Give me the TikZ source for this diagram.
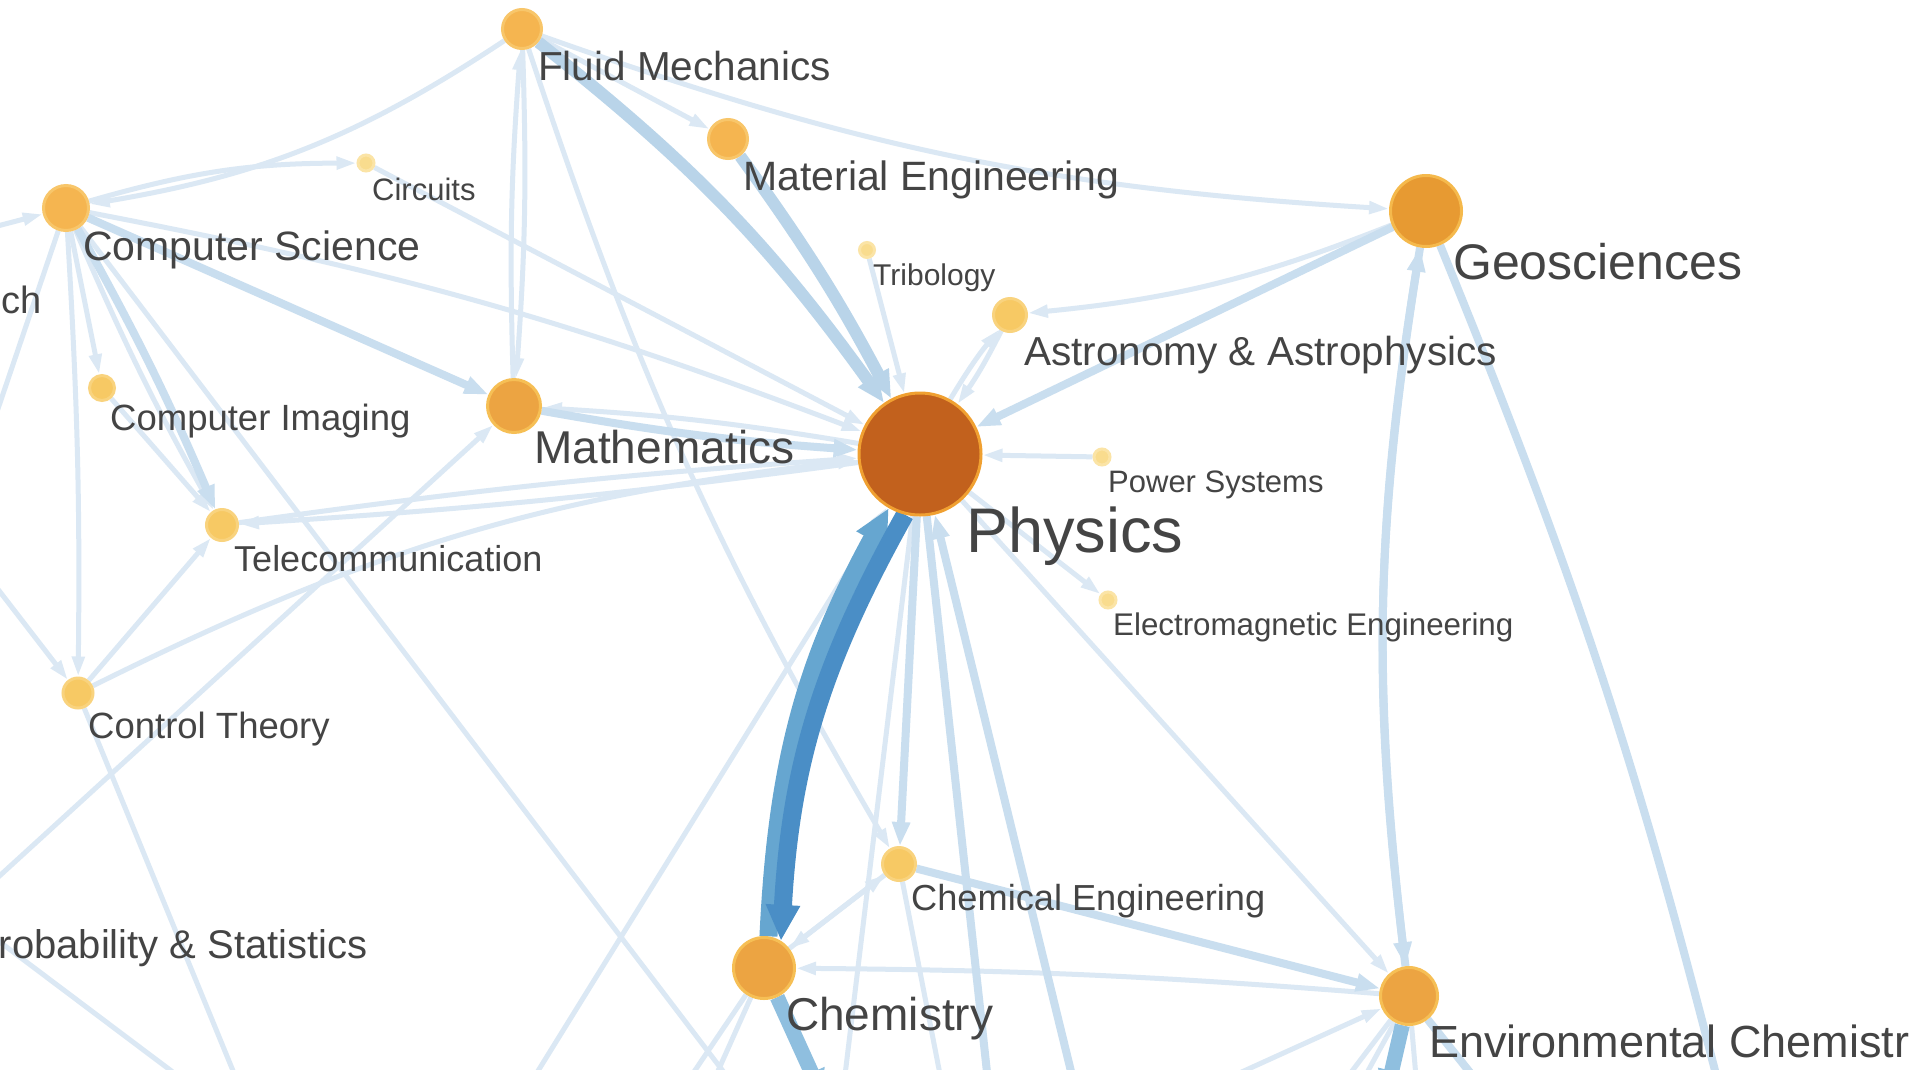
\documentclass[tikz,border=0pt]{standalone}
\usepackage{fontspec}
\setmainfont{Liberation Sans}
\usetikzlibrary{arrows.meta}
\pgfdeclarelayer{back}
\pgfdeclarelayer{edges}
\pgfsetlayers{back,edges,main}
\definecolor{txt}{HTML}{444444}
\definecolor{eA}{HTML}{DBE8F4}
\definecolor{eB}{HTML}{C9DEEF}
\definecolor{eC}{HTML}{B9D4E9}
\definecolor{eD}{HTML}{8FBFDF}
\definecolor{hvA}{HTML}{4A8EC6}
\definecolor{hvB}{HTML}{66A6D0}
\definecolor{physF}{HTML}{C2611D}
\definecolor{physD}{HTML}{F0A031}
\definecolor{geoF}{HTML}{E79A32}
\definecolor{geoD}{HTML}{F5B94C}
\definecolor{midF}{HTML}{ECA442}
\definecolor{midD}{HTML}{F6BF55}
\definecolor{smF}{HTML}{F5B550}
\definecolor{smD}{HTML}{F8C66A}
\definecolor{ltF}{HTML}{F7C964}
\definecolor{ltD}{HTML}{F9D37E}
\definecolor{tnF}{HTML}{F9DC8E}
\definecolor{tnD}{HTML}{FBE4A6}
\tikzset{
  nd/.style={circle, inner sep=0pt, line width=3pt},
  lab/.style={anchor=base west, inner sep=0pt, text=txt, font=\fontsize{#1}{#1}\selectfont},
  labe/.style={anchor=base east, inner sep=0pt, text=txt, font=\fontsize{#1}{#1}\selectfont},
  ea/.style={draw=eA, line width=5pt, -{Triangle[length=20pt,width=12pt]}},
  eb/.style={draw=eB, line width=8pt, -{Triangle[length=24pt,width=17pt]}},
  ec/.style={draw=eC, line width=12pt, -{Triangle[length=28pt,width=22pt]}},
  ed/.style={draw=eD, line width=15pt, -{Triangle[length=30pt,width=26pt]}},
  bl/.style={bend left=#1},
  br/.style={bend right=#1}
}
\begin{document}
\begin{tikzpicture}[x=1pt,y=-1pt]
\useasboundingbox (0,0) rectangle (1920,1069);
\clip (0,0) rectangle (1920,1069);
\begin{pgfonlayer}{back}
\fill[white] (0,0) rectangle (1920,1069);
\end{pgfonlayer}

% nodes
\node[nd, minimum size=122pt, fill=physF, draw=physD] (Phys) at (920,454) {};
\node[nd, minimum size=71pt, fill=geoF, draw=geoD] (Geo) at (1426,211) {};
\node[nd, minimum size=61pt, fill=midF, draw=midD] (Chem) at (764,968) {};
\node[nd, minimum size=57pt, fill=midF, draw=midD] (Env) at (1409,996) {};
\node[nd, minimum size=53pt, fill=midF, draw=midD] (Math) at (514,406) {};
\node[nd, minimum size=45pt, fill=smF, draw=smD] (CS) at (66,208) {};
\node[nd, minimum size=39pt, fill=smF, draw=smD] (FM) at (522,29) {};
\node[nd, minimum size=39pt, fill=smF, draw=smD] (ME) at (728,139) {};
\node[nd, minimum size=33pt, fill=ltF, draw=ltD] (Astro) at (1010,315) {};
\node[nd, minimum size=33pt, fill=ltF, draw=ltD] (ChemE) at (899,864) {};
\node[nd, minimum size=31pt, fill=ltF, draw=ltD] (Tele) at (222,525) {};
\node[nd, minimum size=30pt, fill=ltF, draw=ltD] (CT) at (78,693) {};
\node[nd, minimum size=25pt, fill=ltF, draw=ltD] (CI) at (102,388) {};
\node[nd, minimum size=16pt, fill=tnF, draw=tnD] (Circ) at (366,163) {};
\node[nd, minimum size=15pt, fill=tnF, draw=tnD] (Trib) at (867,250) {};
\node[nd, minimum size=16pt, fill=tnF, draw=tnD] (PS) at (1102,457) {};
\node[nd, minimum size=16pt, fill=tnF, draw=tnD] (EM) at (1108,600) {};

% off-canvas ends
\coordinate (res) at (-170,270);
\coordinate (ps) at (-40,912);
\coordinate (a1) at (-60,580);
\coordinate (a2) at (-40,540);
\coordinate (b1) at (745,1100);
\coordinate (b2) at (245,1100);
\coordinate (b3) at (210,1100);
\coordinate (b4) at (520,1100);
\coordinate (b5) at (675,1100);
\coordinate (b6) at (705,1100);
\coordinate (b7) at (824,1100);
\coordinate (b8) at (842,1100);
\coordinate (b9) at (945,1100);
\coordinate (b10) at (990,1100);
\coordinate (b11) at (1078,1100);
\coordinate (e1) at (1180,1100);
\coordinate (e2) at (1330,1100);
\coordinate (e3) at (1352,1100);
\coordinate (e4) at (1385,1100);
\coordinate (e5) at (1418,1100);
\coordinate (e6) at (1492,1100);
\coordinate (g1) at (1725,1110);

\begin{pgfonlayer}{edges}
% thin edges
\draw[ea] (FM) to[bl=12] (CS);
\draw[ea] (CS) to[bl=8] (Circ);
\draw[ea] (FM) to[br=8] (Geo);
\draw[ea] (FM) -- (ME);
\draw[ea] (FM) to[bl=3] (Math);
\draw[ea] (Math) to[bl=3] (FM);
\draw[ea] (FM) to[br=6] (ChemE);
\draw[ea] (Circ) -- (Phys);
\draw[ea] (Trib) -- (Phys);
\draw[ea] (CS) to[bl=5] (Phys);
\draw[ea] (CS) -- (CI);
\draw[ea] (CS) to[br=3] (Tele);
\draw[ea] (CS) to[bl=2] (CT);
\draw[ea] (CI) -- (Tele);
\draw[ea] (Phys) to[br=3] (Math);
\draw[ea] (Phys) to[bl=2] (Tele);
\draw[ea] (Tele) to[bl=2] (Phys);
\draw[ea] (CT) -- (Tele);
\draw[ea] (CT) to[bl=10] (Phys);
\draw[ea] (ps) -- (Math);
\draw[ea] (res) -- (CS);
\draw[ea] (CS) -- (a1);
\draw[ea] (a2) -- (CT);
\draw[ea] (CS) -- (b1);
\draw[ea] (CT) -- (b2);
\draw[ea] (ps) -- (b3);
\draw[ea] (b4) -- (Phys);
\draw[ea] (Chem) -- (b5);
\draw[ea] (Chem) -- (b6);
\draw[ea] (Phys) -- (b8);
\draw[ea] (ChemE) -- (b9);
\draw[ea] (Chem) -- (ChemE);
\draw[ea] (ChemE) -- (Chem);
\draw[ea] (Env) to[br=2] (Chem);
\draw[ea] (Phys) -- (Env);
\draw[ea] (Phys) -- (EM);
\draw[ea] (PS) -- (Phys);
\draw[ea] (Astro) to[bl=4] (Phys);
\draw[ea] (Phys) to[bl=4] (Astro);
\draw[ea] (Geo) to[bl=8] (Astro);
\draw[ea] (e1) -- (Env);
\draw[ea] (Env) -- (e2);
\draw[ea] (Env) -- (e3);
\draw[ea] (Env) -- (e5);
% medium edges
\draw[eb] (CS) -- (Math);
\draw[eb] (CS) to[bl=3] (Tele);
\draw[eb] (Math) to[br=3] (Phys);
\draw[eb] (Phys) -- (ChemE);
\draw[eb] (ChemE) -- (Env);
\draw[eb] (Geo) -- (Phys);
\draw[eb] (Geo) to[br=8] (Env);
\draw[eb] (Env) to[bl=8] (Geo);
\draw[eb] (Geo) to[bl=4] (g1);
\draw[eb] (Phys) -- (b10);
\draw[eb] (b11) -- (Phys);
\draw[eb] (Env) -- (e6);
% thick edges
\draw[ec] (FM) to[bl=8] (Phys);
\draw[ec] (ME) to[bl=4] (Phys);
\draw[ed] (Chem) -- (b7);
\draw[ed] (Env) -- (e4);
% heavy pair
\draw[draw=hvB, line width=18pt, -{Triangle[length=36pt,width=32pt]}] (Chem.82) to[bl=13] (Phys.240);
\draw[draw=hvA, line width=18pt, -{Triangle[length=36pt,width=32pt]}] (Phys.256) to[br=13] (Chem.58);
\end{pgfonlayer}

% labels
\node[lab=40.5] (lFM) at (538,80) {Fluid Mechanics};
\node[lab=41] (lME) at (743,190) {Material Engineering};
\node[lab=31] (lCirc) at (372,200) {Circuits};
\node[lab=41] (lCS) at (83,260) {Computer Science};
\node[lab=38] (lRes) at (1,313) {ch};
\node[lab=30] (lTrib) at (873,285) {Tribology};
\node[lab=50] (lGeo) at (1453,279) {Geosciences};
\node[lab=40.5] (lAstro) at (1024,365) {Astronomy \& Astrophysics};
\node[lab=36.5] (lCI) at (110,430) {Computer Imaging};
\node[lab=46] (lMath) at (534,463) {Mathematics};
\node[lab=63] (lPhys) at (966,552) {Physics};
\node[lab=31] (lPS) at (1108,492) {Power Systems};
\node[lab=36] (lTele) at (234,571) {Telecommunication};
\node[lab=31.3] (lEM) at (1113,635) {Electromagnetic Engineering};
\node[lab=36.5] (lCT) at (88,738) {Control Theory};
\node[lab=36.2] (lChemE) at (911,910) {Chemical Engineering};
\node[labe=40] (lProb) at (368,958) {robability \& Statistics};
\node[lab=46] (lChem) at (786,1030) {Chemistry};
\node[lab=45] (lEnv) at (1429,1057) {Environmental Chemistr};
\end{tikzpicture}
\end{document}
